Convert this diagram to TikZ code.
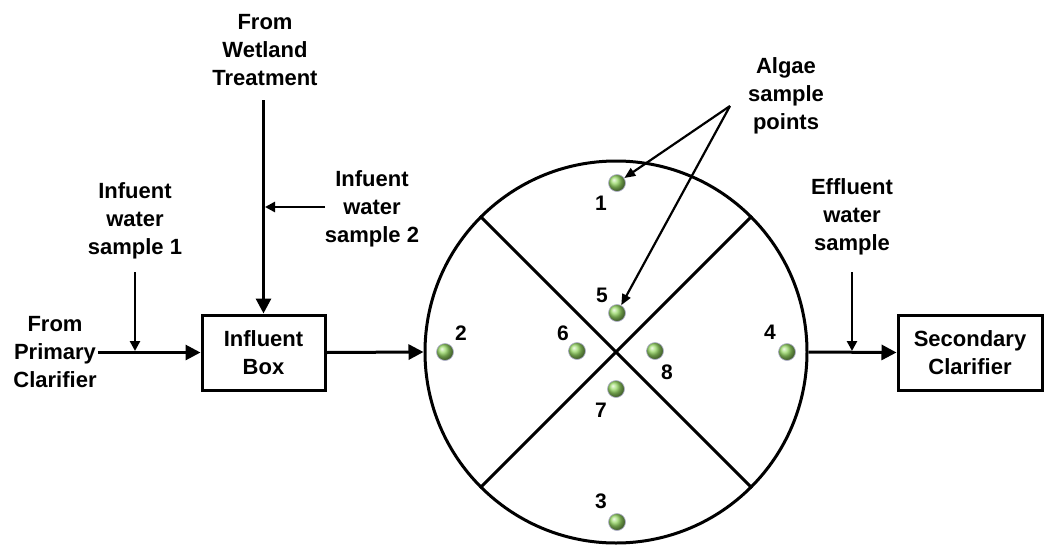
\documentclass[tikz,border=0pt]{standalone}
\usepackage{fontspec}
\setmainfont{Liberation Sans}
\usetikzlibrary{arrows.meta,shapes.geometric}
\definecolor{ballgreen}{RGB}{150,215,100}
\begin{document}
\begin{tikzpicture}[x=1pt,y=-1pt,
  lbl/.style={font=\bfseries\fontsize{22}{28}\selectfont, align=center, inner sep=1pt},
  num/.style={font=\bfseries\fontsize{21}{24}\selectfont, inner sep=0pt},
  boxn/.style={draw, line width=3pt, minimum height=75pt, font=\bfseries\fontsize{22}{28}\selectfont, align=center, inner sep=2pt},
  flow/.style={line width=3pt, -{Triangle[length=15pt,width=15pt]}},
  samp/.style={line width=2.6pt, -{Triangle[length=10pt,width=10pt]}},
  alga/.style={line width=2.2pt, -{Triangle[length=11pt,width=9pt]}},
  dot/.style={circle, minimum size=17pt, inner sep=0pt, shading=ball, ball color=ballgreen, draw=blue!20!gray!50, line width=0.7pt},
]
\useasboundingbox (0,0) rectangle (1045,544);

% texts
\node[lbl] (prim) at (55,352) {From\\Primary\\Clarifier};
\node[lbl] (s1) at (135,221) {Infuent\\water\\sample 1};
\node[lbl] (wet) at (265,50) {From\\Wetland\\Treatment};
\node[lbl] (s2) at (372,209) {Infuent\\water\\sample 2};
\node[lbl] (alg) at (786,96) {Algae\\sample\\points};
\node[lbl] (eff) at (852,217) {Effluent\\water\\sample};

% boxes
\node[boxn, minimum width=123pt] (inbox) at (263.5,352.5) {Influent\\Box};
\node[boxn, minimum width=144pt] (sec) at (970,352.5) {Secondary\\Clarifier};

% tank
\node[circle, draw, line width=3pt, minimum size=382pt, inner sep=0pt] (tank) at (616,352) {};
\draw[line width=3pt] (tank.north west) -- (tank.south east);
\draw[line width=3pt] (tank.north east) -- (tank.south west);

% coordinates
\coordinate (s1top) at (135,272);
\coordinate (s1bot) at (135,351);
\coordinate (wtop) at (263.5,100);
\coordinate (s2start) at (325,207);
\coordinate (s2end) at (265,207);
\coordinate (etop) at (852,272);
\coordinate (ebot) at (852,351);
\coordinate (asrc) at (730,106);

% flows
\draw[flow] (prim.east |- 0,352.5) -- (inbox.west);
\draw[samp] (s1top) -- (s1bot);
\draw[flow] (wtop) -- (inbox.north);
\draw[samp] (s2start) -- (s2end);
\draw[flow] (inbox.east) -- (tank.west);
\draw[flow] (tank.east) -- (sec.west);
\draw[samp] (etop) -- (ebot);

% dots
\node[dot] (d1) at (617,183) {};
\node[dot] (d2) at (445,352) {};
\node[dot] (d3) at (617,522) {};
\node[dot] (d4) at (787,352) {};
\node[dot] (d5) at (617,313) {};
\node[dot] (d6) at (577,351) {};
\node[dot] (d7) at (616,389) {};
\node[dot] (d8) at (655,351) {};
\node[num] (n1) at (601,203) {1};
\node[num] (n2) at (461,333) {2};
\node[num] (n3) at (601,501) {3};
\node[num] (n4) at (770,332) {4};
\node[num] (n5) at (602,295) {5};
\node[num] (n6) at (563,333) {6};
\node[num] (n7) at (601,410) {7};
\node[num] (n8) at (667,372) {8};

% algae arrows
\draw[alga] (asrc) -- (d1);
\draw[alga] (asrc) -- (d5);
\end{tikzpicture}
\end{document}
